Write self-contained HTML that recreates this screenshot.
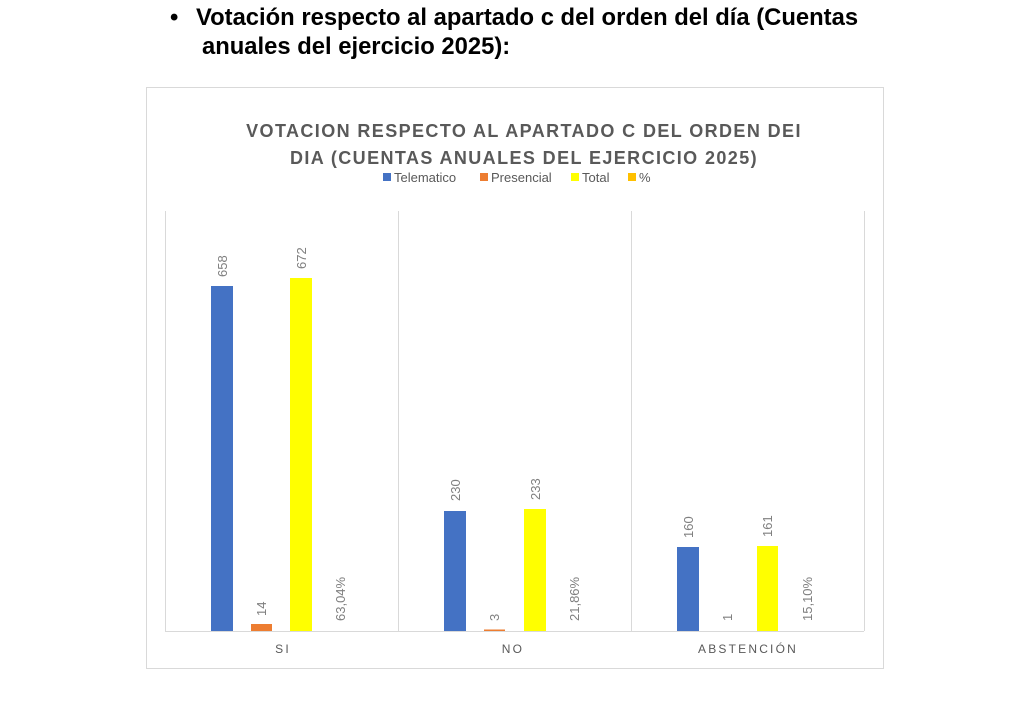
<!DOCTYPE html>
<html><head><meta charset="utf-8"><style>
body{margin:0;background:#fff;width:1024px;height:712px;overflow:hidden;font-family:"Liberation Sans",sans-serif}
.h{position:absolute;font-weight:bold;font-size:23.8px;color:#000;white-space:nowrap}
</style></head><body>
<div class="h" style="left:170px;top:4px">•</div>
<div class="h" style="left:196px;top:4px">Votación respecto al apartado c del orden del día (Cuentas</div>
<div class="h" style="left:202px;top:33px">anuales del ejercicio 2025):</div>
<svg width="1024" height="712" style="position:absolute;left:0;top:0" font-family="Liberation Sans, sans-serif">
<rect x="146.5" y="87.5" width="737" height="581" fill="#fff" stroke="#d9d9d9"/>
<g fill="#595959" font-size="18" font-weight="bold" text-anchor="middle" letter-spacing="1.4">
<text x="524" y="137">VOTACION RESPECTO AL APARTADO C DEL ORDEN DEI</text>
<text x="524" y="164">DIA (CUENTAS ANUALES DEL EJERCICIO 2025)</text>
</g>
<g font-size="13" fill="#595959">
<rect x="383" y="173" width="8" height="8" fill="#4472c4"/><text x="394" y="182">Telematico</text>
<rect x="480" y="173" width="8" height="8" fill="#ed7d31"/><text x="491" y="182">Presencial</text>
<rect x="571" y="173" width="8" height="8" fill="#ffff00"/><text x="582" y="182">Total</text>
<rect x="628" y="173" width="8" height="8" fill="#ffc000"/><text x="639" y="182">%</text>
</g>
<g stroke="#d9d9d9"><line x1="165.5" y1="211" x2="165.5" y2="631"/><line x1="398.5" y1="211" x2="398.5" y2="631"/><line x1="631.5" y1="211" x2="631.5" y2="631"/><line x1="864.5" y1="211" x2="864.5" y2="631"/><line x1="165" y1="631.5" x2="864" y2="631.5"/></g>
<rect x="211" y="286" width="22" height="345" fill="#4472c4"/>
<rect x="251" y="624" width="21" height="7" fill="#ed7d31"/>
<rect x="290" y="278" width="22" height="353" fill="#ffff00"/>
<rect x="444" y="511" width="22" height="120" fill="#4472c4"/>
<rect x="484" y="629.5" width="21" height="1.5" fill="#ed7d31"/>
<rect x="524" y="509" width="22" height="122" fill="#ffff00"/>
<rect x="677" y="547" width="22" height="84" fill="#4472c4"/>
<rect x="757" y="546" width="21" height="85" fill="#ffff00"/>
<g fill="#7f7f7f" font-size="13">
<text transform="translate(227,277) rotate(-90)">658</text>
<text transform="translate(266,616) rotate(-90)">14</text>
<text transform="translate(306,269) rotate(-90)">672</text>
<text transform="translate(345,621) rotate(-90)">63,04%</text>
<text transform="translate(460,501) rotate(-90)">230</text>
<text transform="translate(499,621) rotate(-90)">3</text>
<text transform="translate(540,500) rotate(-90)">233</text>
<text transform="translate(579,621) rotate(-90)">21,86%</text>
<text transform="translate(693,538) rotate(-90)">160</text>
<text transform="translate(732,621) rotate(-90)">1</text>
<text transform="translate(772,537) rotate(-90)">161</text>
<text transform="translate(812,621) rotate(-90)">15,10%</text>
</g>
<g fill="#595959" font-size="12" text-anchor="middle" letter-spacing="2.2">
<text x="283" y="653">SI</text><text x="513" y="653">NO</text><text x="748" y="653">ABSTENCIÓN</text>
</g>
</svg>
</body></html>
